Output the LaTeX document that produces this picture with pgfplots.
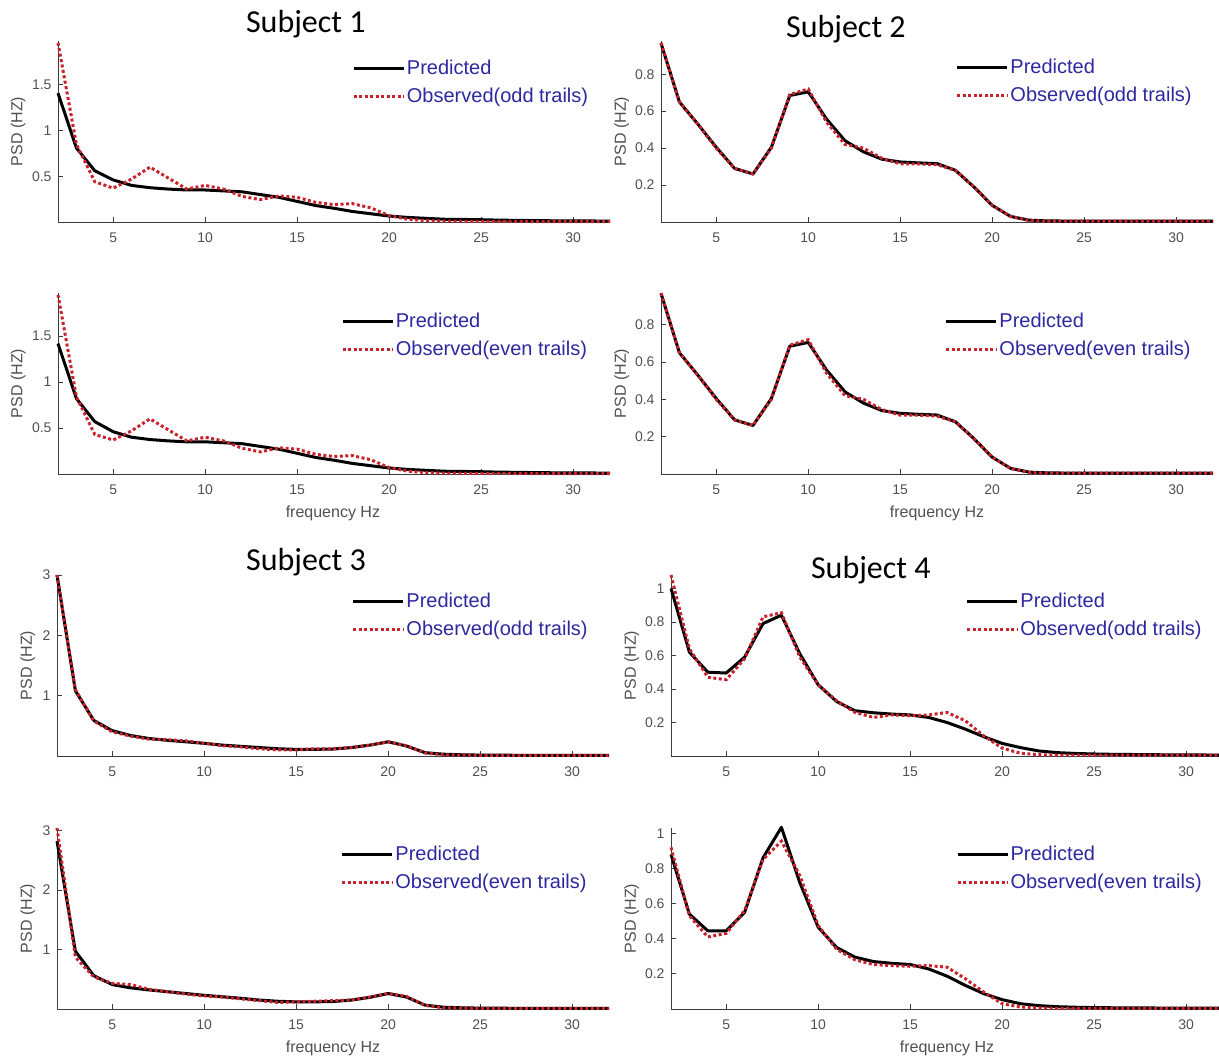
\documentclass[border=0pt]{standalone}
\usepackage{fontspec}
\setmainfont{Liberation Sans}
\newfontfamily\calibri{Carlito}
\usepackage{pgfplots}
\usepackage{pgfplotstable}
\pgfplotsset{compat=1.18}

\definecolor{axgray}{RGB}{60,60,60}
\definecolor{tickgray}{RGB}{80,80,80}
\definecolor{legblue}{RGB}{45,40,160}
\definecolor{obsred}{RGB}{200,35,45}

\pgfplotstableread{
f p o
2 1.41 1.96
3 0.81 0.85
4 0.56 0.44
5 0.46 0.37
6 0.40 0.47
7 0.375 0.60
8 0.36 0.48
9 0.35 0.36
10 0.35 0.40
11 0.34 0.36
12 0.33 0.28
13 0.30 0.245
14 0.27 0.285
15 0.225 0.27
16 0.18 0.215
17 0.15 0.19
18 0.115 0.20
19 0.09 0.155
20 0.065 0.07
21 0.05 0.03
22 0.04 0.015
23 0.03 0.01
24 0.028 0.008
25 0.025 0.007
26 0.02 0.006
27 0.018 0.006
28 0.015 0.005
29 0.013 0.005
30 0.012 0.005
31 0.011 0.005
32 0.01 0.005
}\Sa

\pgfplotstableread{
f p o
2 1.42 1.95
3 0.82 0.84
4 0.57 0.43
5 0.46 0.37
6 0.40 0.47
7 0.375 0.60
8 0.36 0.48
9 0.35 0.36
10 0.35 0.40
11 0.34 0.36
12 0.33 0.28
13 0.30 0.24
14 0.27 0.285
15 0.225 0.27
16 0.18 0.215
17 0.15 0.19
18 0.115 0.20
19 0.09 0.155
20 0.065 0.07
21 0.05 0.03
22 0.04 0.015
23 0.03 0.01
24 0.028 0.008
25 0.025 0.007
26 0.02 0.006
27 0.018 0.006
28 0.015 0.005
29 0.013 0.005
30 0.012 0.005
31 0.011 0.005
32 0.01 0.005
}\Sb

\pgfplotstableread{
f p o
2 0.968 0.97
3 0.65 0.65
4 0.53 0.53
5 0.405 0.40
6 0.29 0.29
7 0.26 0.26
8 0.405 0.40
9 0.685 0.69
10 0.705 0.72
11 0.557 0.54
12 0.44 0.42
13 0.38 0.40
14 0.34 0.345
15 0.325 0.315
16 0.32 0.315
17 0.316 0.31
18 0.28 0.28
19 0.19 0.19
20 0.09 0.09
21 0.03 0.03
22 0.01 0.008
23 0.006 0.004
24 0.005 0.004
25 0.005 0.004
26 0.005 0.004
27 0.005 0.004
28 0.005 0.004
29 0.005 0.004
30 0.005 0.004
31 0.005 0.004
32 0.005 0.004
}\Sc

\pgfplotstableread{
f p o
2 3.0 3.0
3 1.08 1.1
4 0.59 0.58
5 0.42 0.40
6 0.34 0.33
7 0.29 0.28
8 0.26 0.27
9 0.235 0.25
10 0.21 0.21
11 0.18 0.17
12 0.16 0.15
13 0.14 0.12
14 0.12 0.10
15 0.11 0.10
16 0.11 0.12
17 0.115 0.12
18 0.14 0.14
19 0.18 0.18
20 0.235 0.235
21 0.165 0.17
22 0.055 0.05
23 0.03 0.02
24 0.02 0.015
25 0.015 0.01
26 0.013 0.01
27 0.012 0.01
28 0.011 0.01
29 0.01 0.01
30 0.01 0.01
31 0.01 0.01
32 0.01 0.01
}\Sd

\pgfplotstableread{
f p o
2 2.82 3.04
3 0.97 0.87
4 0.56 0.54
5 0.41 0.43
6 0.355 0.41
7 0.32 0.33
8 0.29 0.29
9 0.26 0.25
10 0.23 0.22
11 0.205 0.20
12 0.18 0.17
13 0.15 0.14
14 0.13 0.11
15 0.12 0.12
16 0.12 0.13
17 0.125 0.14
18 0.15 0.15
19 0.195 0.20
20 0.26 0.26
21 0.20 0.21
22 0.065 0.06
23 0.03 0.02
24 0.02 0.015
25 0.015 0.01
26 0.013 0.01
27 0.012 0.01
28 0.011 0.01
29 0.01 0.01
30 0.01 0.01
31 0.01 0.01
32 0.01 0.01
}\Se

\pgfplotstableread{
f p o
2 1.0 1.08
3 0.62 0.64
4 0.50 0.47
5 0.495 0.455
6 0.59 0.58
7 0.79 0.83
8 0.84 0.855
9 0.61 0.59
10 0.425 0.425
11 0.325 0.33
12 0.27 0.26
13 0.258 0.23
14 0.25 0.245
15 0.245 0.24
16 0.23 0.245
17 0.20 0.26
18 0.16 0.21
19 0.115 0.12
20 0.075 0.047
21 0.05 0.016
22 0.03 0.008
23 0.02 0.005
24 0.015 0.005
25 0.012 0.005
26 0.01 0.005
27 0.009 0.005
28 0.008 0.005
29 0.007 0.005
30 0.006 0.005
31 0.006 0.005
32 0.005 0.005
}\Sf

\pgfplotstableread{
f p o
2 0.88 0.92
3 0.54 0.53
4 0.445 0.41
5 0.445 0.43
6 0.55 0.56
7 0.86 0.85
8 1.034 0.955
9 0.72 0.76
10 0.465 0.475
11 0.35 0.34
12 0.295 0.28
13 0.27 0.253
14 0.26 0.247
15 0.253 0.243
16 0.228 0.247
17 0.187 0.238
18 0.134 0.172
19 0.087 0.096
20 0.053 0.03
21 0.03 0.011
22 0.019 0.006
23 0.013 0.004
24 0.01 0.004
25 0.008 0.004
26 0.007 0.004
27 0.006 0.004
28 0.006 0.004
29 0.005 0.004
30 0.005 0.004
31 0.005 0.004
32 0.005 0.004
}\Sg

\pgfplotsset{
  legend image code/.code={\draw[#1] (0pt,0pt) -- (50pt,0pt);},
  psd/.style={
    scale only axis, width=552pt, height=181pt,
    xmin=2, xmax=32, ymin=0,
    axis lines*=left,
    axis line style={axgray, line width=0.8pt},
    xtick={5,10,15,20,25,30},
    tick align=inside,
    major tick length=5pt,
    tick style={axgray, line width=0.8pt},
    tick label style={font=\fontsize{14}{14}\selectfont, text=tickgray},
    xticklabel style={yshift=-7pt},
    yticklabel style={xshift=-3pt},
    /pgf/number format/assume math mode=true,
    label style={font=\fontsize{16}{16}\selectfont, text=tickgray},
    ylabel={PSD (HZ)},
    clip=false,
    legend cell align=left,
    legend style={draw=none, fill=none, inner sep=0pt, anchor=north west,
      row sep=9pt, font=\fontsize{20}{20}\selectfont, text=legblue,
      nodes={inner sep=1.5pt}},
    title style={font=\calibri\fontsize{32}{32}\selectfont, anchor=center, text=black},
  },
  pred/.style={black, line width=3pt, line join=round},
  obs/.style={obsred, line width=3pt, dash pattern=on 3pt off 2.5pt},
}

\begin{document}
\begin{tikzpicture}
\useasboundingbox (0,0) rectangle (1219pt,1057pt);

% Row 1 left
\begin{axis}[psd, at={(58pt,835pt)}, anchor=south west, ymax=1.98, ytick={0.5,1,1.5},
  title={Subject 1}, title style={at={(axis description cs:0.449,1.06)}},
  ylabel style={at={(axis description cs:-0.072,0.5)}, anchor=center},
  legend style={at={(axis description cs:0.533,0.903)}}]
\addplot[pred] table[x=f,y=p]{\Sa};
\addplot[obs] table[x=f,y=o]{\Sa};
\legend{Predicted,Observed(odd trails)}
\end{axis}

% Row 1 right
\begin{axis}[psd, at={(661pt,835pt)}, anchor=south west, ymax=0.98, ytick={0.2,0.4,0.6,0.8},
  title={Subject 2}, title style={at={(axis description cs:0.335,1.033)}},
  ylabel style={at={(axis description cs:-0.071,0.5)}, anchor=center},
  legend style={at={(axis description cs:0.534,0.908)}}]
\addplot[pred] table[x=f,y=p]{\Sc};
\addplot[obs] table[x=f,y=o]{\Sc};
\legend{Predicted,Observed(odd trails)}
\end{axis}

% Row 2 left
\begin{axis}[psd, at={(58pt,583pt)}, anchor=south west, ymax=1.97, ytick={0.5,1,1.5},
  xlabel={frequency Hz}, xlabel style={at={(axis description cs:0.498,-0.22)}, anchor=center},
  ylabel style={at={(axis description cs:-0.072,0.5)}, anchor=center},
  legend style={at={(axis description cs:0.513,0.898)}}]
\addplot[pred] table[x=f,y=p]{\Sb};
\addplot[obs] table[x=f,y=o]{\Sb};
\legend{Predicted,Observed(even trails)}
\end{axis}

% Row 2 right
\begin{axis}[psd, at={(661pt,583pt)}, anchor=south west, ymax=0.97, ytick={0.2,0.4,0.6,0.8},
  xlabel={frequency Hz}, xlabel style={at={(axis description cs:0.5,-0.22)}, anchor=center},
  ylabel style={at={(axis description cs:-0.071,0.5)}, anchor=center},
  legend style={at={(axis description cs:0.514,0.898)}}]
\addplot[pred] table[x=f,y=p]{\Sc};
\addplot[obs] table[x=f,y=o]{\Sc};
\legend{Predicted,Observed(even trails)}
\end{axis}

% Row 3 left
\begin{axis}[psd, at={(57pt,301pt)}, anchor=south west, ymax=3.0, ytick={1,2,3},
  title={Subject 3}, title style={at={(axis description cs:0.451,1.039)}},
  ylabel style={at={(axis description cs:-0.053,0.5)}, anchor=center},
  legend style={at={(axis description cs:0.534,0.908)}}]
\addplot[pred] table[x=f,y=p]{\Sd};
\addplot[obs] table[x=f,y=o]{\Sd};
\legend{Predicted,Observed(odd trails)}
\end{axis}

% Row 3 right
\begin{axis}[psd, at={(671pt,301pt)}, anchor=south west, ymax=1.08, ytick={0.2,0.4,0.6,0.8,1},
  title={Subject 4}, title style={at={(axis description cs:0.362,0.995)}},
  ylabel style={at={(axis description cs:-0.071,0.5)}, anchor=center},
  legend style={at={(axis description cs:0.534,0.908)}}]
\addplot[pred] table[x=f,y=p]{\Sf};
\addplot[obs] table[x=f,y=o]{\Sf};
\legend{Predicted,Observed(odd trails)}
\end{axis}

% Row 4 left
\begin{axis}[psd, at={(57pt,48pt)}, anchor=south west, ymax=3.04, ytick={1,2,3},
  xlabel={frequency Hz}, xlabel style={at={(axis description cs:0.5,-0.215)}, anchor=center},
  ylabel style={at={(axis description cs:-0.053,0.5)}, anchor=center},
  legend style={at={(axis description cs:0.514,0.908)}}]
\addplot[pred] table[x=f,y=p]{\Se};
\addplot[obs] table[x=f,y=o]{\Se};
\legend{Predicted,Observed(even trails)}
\end{axis}

% Row 4 right
\begin{axis}[psd, at={(671pt,48pt)}, anchor=south west, ymax=1.03, ytick={0.2,0.4,0.6,0.8,1},
  xlabel={frequency Hz}, xlabel style={at={(axis description cs:0.5,-0.215)}, anchor=center},
  ylabel style={at={(axis description cs:-0.071,0.5)}, anchor=center},
  legend style={at={(axis description cs:0.516,0.908)}}]
\addplot[pred] table[x=f,y=p]{\Sg};
\addplot[obs] table[x=f,y=o]{\Sg};
\legend{Predicted,Observed(even trails)}
\end{axis}

\end{tikzpicture}
\end{document}
